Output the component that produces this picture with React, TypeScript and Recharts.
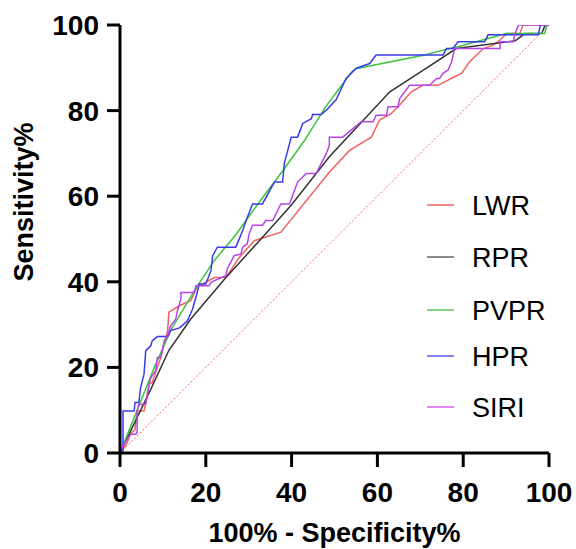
import React from 'react';
import { LineChart, Line, XAxis, YAxis, ReferenceLine } from 'recharts';

type Pt = { x: number; y: number };
const toPts = (a: number[][]): Pt[] => a.map(([x, y]) => ({ x, y }));

const xTicks = [0, 20, 40, 60, 80, 100];
const yTicks = [0, 20, 40, 60, 80, 100];

const seriesNames = ['LWR', 'RPR', 'PVPR', 'HPR', 'SIRI'];
const lineColors = ['#f26262', '#333333', '#3cc43c', '#3b3bee', '#b544ea'];
const legendColors = ['#f28a8a', '#8a8a8a', '#86d886', '#8484f0', '#e28af2'];

const lwr = toPts([
  [0, 0], [1.5, 2], [2.5, 4.5], [3.5, 5.5], [4, 9.8], [5.6, 9.8], [6.8, 16.1], [7.5, 16.5],
  [9.5, 22.3], [11.1, 28.6], [11.4, 32.9], [13.8, 34.4], [16.5, 35.6], [18.1, 39.1], [19.2, 39.5],
  [22, 41], [24.7, 41], [27.8, 45.7], [31.3, 49.6], [37.5, 51.6], [48.8, 65.6], [53.5, 70.7],
  [58.6, 73.8], [60.5, 77.8], [63.2, 79.3], [65.2, 81.3], [67.9, 84.4], [70.6, 85.9], [74.1, 85.9],
  [78, 87.9], [79.6, 88.7], [81.5, 91.4], [84.7, 94.5], [87, 95.3], [88.6, 96.5], [90.1, 98],
  [93.2, 98], [94, 100], [100, 100],
]);

const rpr = toPts([
  [0, 0], [7, 14.5], [11.4, 24], [16.5, 31.3], [24.7, 41], [32.5, 49.6], [40, 58], [48.8, 69.2],
  [56, 77], [62.9, 84.4], [70, 89], [78.4, 94.5], [92.1, 96.3], [94.4, 98], [98.3, 98], [99.1, 100],
  [100, 100],
]);

const pvpr = toPts([
  [0, 0], [2, 5], [4, 10], [8, 20], [12, 29], [18, 39], [22, 45], [27, 51], [32, 58], [38, 66],
  [43, 73], [48, 81], [51, 85], [54, 89], [55, 89.8], [71, 93], [76, 94.3], [79, 95], [90, 98],
  [99, 98], [99.5, 100], [100, 100],
]);

const hpr = toPts([
  [0, 0], [0.7, 0], [0.7, 9.8], [3.3, 9.8], [3.5, 11.8], [4.4, 11.8], [4.8, 15.3], [5.6, 18.4],
  [6, 23.9], [7.2, 25.1], [7.5, 26.2], [8.7, 27.2], [11.1, 27.2], [11.8, 28.6], [14, 29.3],
  [15.7, 30.9], [16.9, 33.6], [17.7, 36.4], [18.5, 39.5], [20, 39.5], [21.2, 42.6], [21.6, 46.1],
  [22.7, 48.1], [27, 48.1], [28.6, 52], [29.4, 54.3], [30.9, 58.2], [33.2, 58.2], [36, 63.3],
  [37.9, 63.3], [38.3, 67.6], [39.9, 73.8], [41.4, 73.8], [42.6, 77], [44.6, 78.1], [44.9, 79.1],
  [46.9, 79.1], [48.1, 80.1], [50.4, 82.6], [52.7, 87.5], [55.1, 89.9], [58.2, 91], [59.7, 93],
  [75.3, 93], [76.1, 94.5], [77.6, 94.5], [78.8, 96.1], [85, 96.1], [85.8, 97.7], [97.5, 97.7],
  [98, 100], [100, 100],
]);

const siri = toPts([
  [0, 0], [0.5, 1.2], [0.9, 2], [2.5, 4.4], [3.7, 4.4], [4, 4.8], [4, 9.8], [4.4, 11.4], [6, 11.4],
  [6.8, 16.1], [7.2, 17.6], [8.3, 19.2], [8.7, 22.3], [9.5, 22.3], [10.3, 26.2], [11.1, 27.4],
  [11.8, 29.7], [13, 31.3], [13.4, 33.3], [14.2, 36], [14.2, 37.5], [17.3, 37.5], [17.7, 39.1],
  [20.8, 39.1], [21.2, 39.9], [24.7, 41.5], [25, 43], [26.6, 46.1], [28.2, 46.5], [28.6, 48.1],
  [29.7, 48.9], [30.1, 51.2], [30.9, 53.2], [33.2, 53.2], [34, 54.3], [35.6, 54.3], [37.5, 58.2],
  [39.5, 58.2], [41.4, 63.3], [43.4, 65.3], [45.7, 65.3], [48.1, 70], [48.8, 71.9], [48.8, 73.8],
  [51.9, 73.8], [56.2, 77.4], [59, 77.4], [59.7, 78.9], [62.1, 78.9], [62.5, 80.9], [64.8, 80.9],
  [65.2, 82.8], [67.5, 85.9], [72.2, 85.9], [73.8, 87.5], [74.5, 87.5], [75.3, 88.7], [76.5, 89.5],
  [77.3, 91.4], [78, 94.5], [88.6, 94.5], [88.6, 96.1], [91.7, 96.1], [92.1, 98], [92.9, 100],
  [100, 100],
]);

const seriesData = [lwr, rpr, pvpr, hpr, siri];

const FONT = "'Liberation Sans', Arial, Helvetica, sans-serif";

const XTick = (props: any) => {
  const { x, y, payload } = props;
  return (
    <text x={x} y={y} dy={20} textAnchor="middle" fontFamily={FONT} fontWeight="bold" fontSize={28} fill="#000">
      {payload.value}
    </text>
  );
};

const YTick = (props: any) => {
  const { x, y, payload } = props;
  return (
    <text x={x} y={y} dy={10} textAnchor="end" fontFamily={FONT} fontWeight="bold" fontSize={28} fill="#000">
      {payload.value}
    </text>
  );
};

const XTitle = (props: any) => {
  const vb = props.viewBox || { x: 120, y: 453, width: 429, height: 96 };
  const cx = vb.x + vb.width / 2;
  return (
    <text x={cx} y={vb.y + 89} textAnchor="middle" fontFamily={FONT} fontWeight="bold" fontSize={27} fill="#000">
      100% - Specificity%
    </text>
  );
};

const YTitle = (props: any) => {
  const vb = props.viewBox || { x: 0, y: 25, width: 120, height: 428 };
  const tx = vb.x + 33;
  const ty = vb.y + 177;
  return (
    <text x={tx} y={ty} transform={`rotate(-90, ${tx}, ${ty})`} textAnchor="middle" fontFamily={FONT} fontWeight="bold" fontSize={27} fill="#000">
      Sensitivity%
    </text>
  );
};

const legendRows = [205, 257, 310, 356, 407];

export default function App() {
  return (
    <div style={{ position: 'absolute', left: 0, top: 0, width: 576, height: 549, background: '#fff' }}>
      <LineChart width={576} height={549} margin={{ top: 25, right: 27, left: 0, bottom: 0 }}>
        <XAxis
          type="number"
          dataKey="x"
          domain={[0, 100]}
          ticks={xTicks}
          interval={0}
          height={96}
          tickSize={14}
          tickMargin={15}
          axisLine={{ stroke: '#000', strokeWidth: 3 }}
          tickLine={{ stroke: '#000', strokeWidth: 3 }}
          tick={<XTick />}
          label={<XTitle />}
          allowDataOverflow
        />
        <YAxis
          type="number"
          dataKey="y"
          domain={[0, 100]}
          ticks={yTicks}
          interval={0}
          width={120}
          tickSize={13}
          tickMargin={8}
          axisLine={{ stroke: '#000', strokeWidth: 3 }}
          tickLine={{ stroke: '#000', strokeWidth: 3 }}
          tick={<YTick />}
          label={<YTitle />}
          allowDataOverflow
        />
        <ReferenceLine
          segment={[{ x: 0, y: 0 }, { x: 100, y: 100 }]}
          stroke="#f06a6a"
          strokeWidth={1}
          strokeDasharray="2 2"
        />
        {seriesNames.map((name, i) => (
          <Line
            key={name}
            name={name}
            data={seriesData[i]}
            dataKey="y"
            type="linear"
            stroke={lineColors[i]}
            strokeWidth={1.5}
            dot={false}
            activeDot={false}
            isAnimationActive={false}
          />
        ))}
      </LineChart>
      <svg width={576} height={549} style={{ position: 'absolute', left: 0, top: 0, pointerEvents: 'none' }}>
        {seriesNames.map((name, i) => (
          <g key={name}>
            <line x1={427} x2={454} y1={legendRows[i]} y2={legendRows[i]} stroke={legendColors[i]} strokeWidth={2} />
            <text x={472} y={legendRows[i] + 9.5} fontFamily={FONT} fontSize={27} fill="#000">
              {name}
            </text>
          </g>
        ))}
      </svg>
    </div>
  );
}
